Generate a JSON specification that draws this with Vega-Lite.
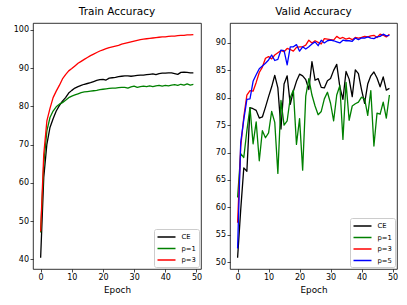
{
  "$schema": "https://vega.github.io/schema/vega-lite/v6.json",
  "padding": {"left": 0, "top": 6, "right": 5, "bottom": 5},
  "background": "white",
  "bounds": "flush",
  "spacing": 29,
  "config": {
    "view": {"stroke": "#000000", "strokeWidth": 0.8},
    "font": "DejaVu Sans",
    "axis": {"domain": false, "grid": false, "tickColor": "#000000", "tickSize": 3, "tickWidth": 0.7, "labelFont": "DejaVu Sans", "labelFontSize": 8, "labelColor": "#000000", "labelPadding": 1.5, "titleFont": "DejaVu Sans", "titleFontSize": 8.8, "titleFontWeight": "normal", "titleColor": "#000000", "titlePadding": 4},
    "title": {"font": "DejaVu Sans", "fontSize": 10.5, "fontWeight": "normal", "color": "#000000", "baseline": "alphabetic", "offset": 5.3, "anchor": "middle"},
    "legend": {"orient": "bottom-right", "offset": 2, "padding": 2.5, "strokeColor": "#cccccc", "fillColor": "white", "cornerRadius": 2, "symbolType": "M-1,0L3,0", "symbolSize": 81, "symbolStrokeWidth": 1.5, "labelFont": "DejaVu Sans", "labelFontSize": 6.8, "labelColor": "#000000", "labelOffset": 14, "rowPadding": 1.5, "title": null}
  },
  "datasets": {
    "train": [
      {"epoch":0,"CE":40.4,"p=1":47.0,"p=3":47.3},
      {"epoch":1,"CE":61.4,"p=1":64.9,"p=3":67.5},
      {"epoch":2,"CE":70.1,"p=1":73.6,"p=3":76.2},
      {"epoch":3,"CE":74.5,"p=1":77.1,"p=3":79.5},
      {"epoch":4,"CE":76.8,"p=1":78.8,"p=3":82.3},
      {"epoch":5,"CE":78.8,"p=1":79.9,"p=3":84.0},
      {"epoch":6,"CE":80.2,"p=1":80.6,"p=3":85.5},
      {"epoch":7,"CE":81.4,"p=1":81.0,"p=3":87.2},
      {"epoch":8,"CE":82.3,"p=1":81.6,"p=3":88.3},
      {"epoch":9,"CE":83.5,"p=1":82.3,"p=3":89.3},
      {"epoch":10,"CE":84.2,"p=1":82.7,"p=3":89.9},
      {"epoch":11,"CE":84.8,"p=1":83.0,"p=3":90.6},
      {"epoch":12,"CE":85.2,"p=1":83.3,"p=3":91.3},
      {"epoch":13,"CE":85.5,"p=1":83.6,"p=3":91.8},
      {"epoch":14,"CE":85.8,"p=1":83.8,"p=3":92.3},
      {"epoch":15,"CE":86.0,"p=1":83.9,"p=3":92.8},
      {"epoch":16,"CE":86.2,"p=1":84.0,"p=3":93.3},
      {"epoch":17,"CE":86.5,"p=1":84.1,"p=3":93.7},
      {"epoch":18,"CE":86.8,"p=1":84.2,"p=3":94.1},
      {"epoch":19,"CE":87.0,"p=1":84.4,"p=3":94.5},
      {"epoch":20,"CE":87.1,"p=1":84.5,"p=3":94.8},
      {"epoch":21,"CE":86.9,"p=1":84.6,"p=3":95.1},
      {"epoch":22,"CE":87.4,"p=1":84.7,"p=3":95.4},
      {"epoch":23,"CE":87.5,"p=1":84.8,"p=3":95.6},
      {"epoch":24,"CE":87.6,"p=1":84.8,"p=3":95.8},
      {"epoch":25,"CE":87.8,"p=1":84.9,"p=3":96.0},
      {"epoch":26,"CE":87.9,"p=1":85.0,"p=3":96.3},
      {"epoch":27,"CE":88.0,"p=1":85.0,"p=3":96.5},
      {"epoch":28,"CE":88.0,"p=1":84.8,"p=3":96.7},
      {"epoch":29,"CE":87.9,"p=1":85.1,"p=3":96.9},
      {"epoch":30,"CE":88.0,"p=1":85.3,"p=3":97.1},
      {"epoch":31,"CE":88.1,"p=1":85.0,"p=3":97.3},
      {"epoch":32,"CE":88.2,"p=1":85.2,"p=3":97.5},
      {"epoch":33,"CE":88.2,"p=1":85.3,"p=3":97.6},
      {"epoch":34,"CE":88.3,"p=1":85.2,"p=3":97.7},
      {"epoch":35,"CE":88.4,"p=1":85.4,"p=3":97.8},
      {"epoch":36,"CE":88.5,"p=1":85.2,"p=3":97.9},
      {"epoch":37,"CE":88.3,"p=1":85.4,"p=3":98.0},
      {"epoch":38,"CE":88.6,"p=1":85.5,"p=3":98.1},
      {"epoch":39,"CE":88.7,"p=1":85.3,"p=3":98.2},
      {"epoch":40,"CE":88.7,"p=1":85.5,"p=3":98.2},
      {"epoch":41,"CE":88.8,"p=1":85.4,"p=3":98.3},
      {"epoch":42,"CE":88.8,"p=1":85.6,"p=3":98.4},
      {"epoch":43,"CE":88.6,"p=1":85.7,"p=3":98.4},
      {"epoch":44,"CE":88.4,"p=1":85.5,"p=3":98.5},
      {"epoch":45,"CE":88.9,"p=1":85.8,"p=3":98.6},
      {"epoch":46,"CE":89.0,"p=1":85.6,"p=3":98.6},
      {"epoch":47,"CE":88.9,"p=1":85.9,"p=3":98.7},
      {"epoch":48,"CE":88.8,"p=1":85.6,"p=3":98.7},
      {"epoch":49,"CE":88.8,"p=1":85.8,"p=3":98.8}
    ],
    "valid": [
      {"epoch":0,"CE":50.8,"p=1":61.8,"p=3":57.2,"p=5":52.5},
      {"epoch":1,"CE":59.5,"p=1":69.8,"p=3":71.0,"p=5":71.8},
      {"epoch":2,"CE":67.2,"p=1":69.1,"p=3":76.5,"p=5":76.0},
      {"epoch":3,"CE":66.6,"p=1":74.0,"p=3":80.5,"p=5":79.7},
      {"epoch":4,"CE":78.2,"p=1":78.2,"p=3":81.3,"p=5":79.8},
      {"epoch":5,"CE":78.0,"p=1":71.6,"p=3":81.2,"p=5":83.0},
      {"epoch":6,"CE":77.7,"p=1":75.6,"p=3":82.8,"p=5":84.2},
      {"epoch":7,"CE":76.3,"p=1":68.5,"p=3":84.6,"p=5":85.3},
      {"epoch":8,"CE":76.5,"p=1":74.0,"p=3":85.6,"p=5":85.8},
      {"epoch":9,"CE":78.3,"p=1":72.7,"p=3":87.2,"p=5":86.3},
      {"epoch":10,"CE":80.2,"p=1":73.6,"p=3":87.5,"p=5":86.9},
      {"epoch":11,"CE":82.0,"p=1":77.5,"p=3":87.1,"p=5":87.8},
      {"epoch":12,"CE":84.1,"p=1":75.5,"p=3":87.8,"p=5":86.8},
      {"epoch":13,"CE":81.8,"p=1":66.2,"p=3":88.2,"p=5":87.0},
      {"epoch":14,"CE":74.3,"p=1":79.5,"p=3":88.6,"p=5":88.7},
      {"epoch":15,"CE":82.5,"p=1":75.0,"p=3":88.4,"p=5":88.6},
      {"epoch":16,"CE":84.0,"p=1":75.8,"p=3":89.0,"p=5":86.0},
      {"epoch":17,"CE":78.8,"p=1":80.0,"p=3":88.8,"p=5":89.3},
      {"epoch":18,"CE":81.2,"p=1":81.4,"p=3":88.5,"p=5":89.3},
      {"epoch":19,"CE":83.0,"p=1":71.5,"p=3":89.2,"p=5":89.7},
      {"epoch":20,"CE":84.3,"p=1":76.2,"p=3":89.3,"p=5":88.5},
      {"epoch":21,"CE":84.0,"p=1":66.8,"p=3":89.3,"p=5":89.3},
      {"epoch":22,"CE":83.3,"p=1":80.3,"p=3":89.6,"p=5":88.9},
      {"epoch":23,"CE":81.5,"p=1":83.5,"p=3":90.5,"p=5":89.3},
      {"epoch":24,"CE":86.6,"p=1":80.5,"p=3":90.0,"p=5":89.8},
      {"epoch":25,"CE":83.2,"p=1":78.5,"p=3":90.4,"p=5":90.2},
      {"epoch":26,"CE":83.5,"p=1":76.9,"p=3":90.1,"p=5":89.5},
      {"epoch":27,"CE":81.9,"p=1":77.5,"p=3":89.8,"p=5":90.5},
      {"epoch":28,"CE":81.8,"p=1":79.8,"p=3":90.8,"p=5":90.0},
      {"epoch":29,"CE":83.1,"p=1":81.0,"p=3":90.7,"p=5":90.4},
      {"epoch":30,"CE":83.5,"p=1":79.0,"p=3":90.6,"p=5":90.5},
      {"epoch":31,"CE":85.0,"p=1":75.8,"p=3":90.5,"p=5":90.4},
      {"epoch":32,"CE":86.1,"p=1":80.5,"p=3":91.2,"p=5":90.2},
      {"epoch":33,"CE":82.0,"p=1":82.2,"p=3":90.8,"p=5":90.0},
      {"epoch":34,"CE":79.7,"p=1":72.4,"p=3":91.0,"p=5":90.5},
      {"epoch":35,"CE":84.8,"p=1":82.8,"p=3":90.7,"p=5":90.4},
      {"epoch":36,"CE":83.4,"p=1":75.9,"p=3":90.9,"p=5":90.4},
      {"epoch":37,"CE":80.2,"p=1":78.5,"p=3":90.6,"p=5":90.3},
      {"epoch":38,"CE":85.1,"p=1":78.9,"p=3":91.0,"p=5":90.9},
      {"epoch":39,"CE":84.4,"p=1":79.2,"p=3":90.9,"p=5":90.6},
      {"epoch":40,"CE":81.5,"p=1":80.1,"p=3":91.0,"p=5":90.9},
      {"epoch":41,"CE":79.0,"p=1":79.8,"p=3":91.2,"p=5":90.9},
      {"epoch":42,"CE":82.5,"p=1":76.8,"p=3":91.1,"p=5":91.1},
      {"epoch":43,"CE":84.0,"p=1":81.3,"p=3":91.3,"p=5":90.9},
      {"epoch":44,"CE":84.7,"p=1":71.2,"p=3":91.4,"p=5":90.8},
      {"epoch":45,"CE":83.6,"p=1":77.2,"p=3":91.0,"p=5":91.1},
      {"epoch":46,"CE":82.0,"p=1":77.0,"p=3":91.6,"p=5":91.2},
      {"epoch":47,"CE":83.8,"p=1":79.2,"p=3":91.4,"p=5":91.6},
      {"epoch":48,"CE":81.4,"p=1":76.3,"p=3":91.1,"p=5":91.3},
      {"epoch":49,"CE":81.7,"p=1":80.5,"p=3":91.6,"p=5":91.4}
    ]
  },
  "resolve": {"scale": {"color": "independent", "y": "independent"}, "legend": {"color": "independent"}},
  "hconcat": [
    {
      "title": "Train Accuracy",
      "width": 168,
      "height": 246,
      "data": {"name": "train"},
      "transform": [{"fold": ["CE", "p=1", "p=3"], "as": ["series", "acc"]}],
      "mark": {"type": "line", "strokeWidth": 1.3, "strokeJoin": "round"},
      "encoding": {
        "x": {"field": "epoch", "type": "quantitative", "title": "Epoch", "scale": {"domain": [-2.45, 51.45], "nice": false, "zero": false}, "axis": {"values": [0, 10, 20, 30, 40, 50]}},
        "y": {"field": "acc", "type": "quantitative", "title": null, "scale": {"domain": [37.475, 101.825], "nice": false, "zero": false}, "axis": {"values": [40, 50, 60, 70, 80, 90, 100], "minExtent": 32, "maxExtent": 32}},
        "color": {"field": "series", "type": "nominal", "scale": {"domain": ["CE", "p=1", "p=3"], "range": ["#000000", "#008000", "#ff0000"]}}
      }
    },
    {
      "title": "Valid Accuracy",
      "width": 167,
      "height": 246,
      "data": {"name": "valid"},
      "transform": [{"fold": ["CE", "p=1", "p=3", "p=5"], "as": ["series", "acc"]}],
      "mark": {"type": "line", "strokeWidth": 1.3, "strokeJoin": "round"},
      "encoding": {
        "x": {"field": "epoch", "type": "quantitative", "title": "Epoch", "scale": {"domain": [-2.45, 51.45], "nice": false, "zero": false}, "axis": {"values": [0, 10, 20, 30, 40, 50]}},
        "y": {"field": "acc", "type": "quantitative", "title": null, "scale": {"domain": [48.76, 93.64], "nice": false, "zero": false}, "axis": {"values": [50, 55, 60, 65, 70, 75, 80, 85, 90]}},
        "color": {"field": "series", "type": "nominal", "scale": {"domain": ["CE", "p=1", "p=3", "p=5"], "range": ["#000000", "#008000", "#ff0000", "#0000ff"]}}
      }
    }
  ]
}
